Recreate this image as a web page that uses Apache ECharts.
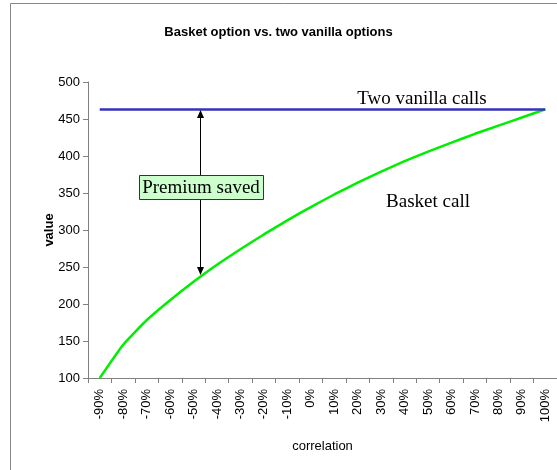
<!DOCTYPE html>
<html>
<head>
<meta charset="utf-8">
<script src="https://cdn.jsdelivr.net/npm/echarts@6/dist/echarts.min.js"></script>
<style>
html,body{margin:0;padding:0;background:#fff;}
#chart{width:557px;height:470px;}
</style>
</head>
<body>
<div id="chart"></div>
<script>
var categories = ['-90%','-80%','-70%','-60%','-50%','-40%','-30%','-20%','-10%','0%','10%','20%','30%','40%','50%','60%','70%','80%','90%','100%'];
var basketCall = [100,145,178,205,230,253,274,294,313,331,348,364,379,393,406,418,430,441,452,463];
var vanillaCalls = [463,463,463,463,463,463,463,463,463,463,463,463,463,463,463,463,463,463,463,463];

var chart = echarts.init(document.getElementById('chart'), null, {renderer:'canvas'});
var font = 'Liberation Sans, Arial, sans-serif';
var serif = 'Liberation Serif, Times New Roman, serif';
chart.setOption({
  animation:false,
  backgroundColor:'#fff',
  title:{
    text:'Basket option vs. two vanilla options',
    left:'center', top:21,
    textStyle:{fontFamily:font, fontSize:13, fontWeight:'bold', color:'#000'}
  },
  grid:{left:88, top:82, right:-5, bottom:92, containLabel:false},
  xAxis:{
    type:'category', data:categories, boundaryGap:true,
    name:'correlation', nameLocation:'middle', nameGap:62,
    nameTextStyle:{fontFamily:font, fontSize:13, color:'#000'},
    axisLine:{lineStyle:{color:'#808080', width:1}},
    axisTick:{show:true, length:5, alignWithLabel:false, lineStyle:{color:'#808080'}},
    axisLabel:{rotate:90, interval:0, fontFamily:font, fontSize:13, color:'#000', margin:11}
  },
  yAxis:{
    type:'value', min:100, max:500, interval:50,
    name:'value', nameLocation:'middle', nameGap:32, nameMoveOverlap:false,
    nameTextStyle:{fontFamily:font, fontSize:13, fontWeight:'bold', color:'#000'},
    axisLine:{show:true, lineStyle:{color:'#808080', width:1}},
    axisTick:{show:true, length:5, lineStyle:{color:'#808080'}},
    splitLine:{show:false},
    axisLabel:{fontFamily:font, fontSize:13, color:'#000', margin:8}
  },
  series:[
    {name:'Two vanilla calls', type:'line', data:vanillaCalls, symbol:'none',
     lineStyle:{color:'#3333bb', width:2.5}, z:3},
    {name:'Basket call', type:'line', data:basketCall, symbol:'none', smooth:0.15,
     lineStyle:{color:'#00ee00', width:2.5}, z:2}
  ],
  graphic:[
    {type:'line', shape:{x1:10.5,y1:3.5,x2:10.5,y2:470}, style:{stroke:'#888',lineWidth:1}},
    {type:'line', shape:{x1:10.5,y1:3.5,x2:557,y2:3.5}, style:{stroke:'#888',lineWidth:1}},
    {type:'line', shape:{x1:200.5,y1:116,x2:200.5,y2:268}, style:{stroke:'#000',lineWidth:1}, z:10},
    {type:'polygon', shape:{points:[[200.5,110],[197,118],[204,118]]}, style:{fill:'#000'}, z:10},
    {type:'polygon', shape:{points:[[200.5,275],[197,267],[204,267]]}, style:{fill:'#000'}, z:10},
    {type:'rect', shape:{x:139.5,y:175.5,width:124,height:24}, style:{fill:'#ccffcc',stroke:'#333',lineWidth:1}, z:11},
    {type:'text', x:201, y:188, style:{text:'Premium saved', fontFamily:serif, fontSize:19, fill:'#000', align:'center', verticalAlign:'middle'}, z:12},
    {type:'text', x:422, y:99, style:{text:'Two vanilla calls', fontFamily:serif, fontSize:19, fill:'#000', align:'center', verticalAlign:'middle'}, z:12},
    {type:'text', x:428, y:202, style:{text:'Basket call', fontFamily:serif, fontSize:19, fill:'#000', align:'center', verticalAlign:'middle'}, z:12}
  ]
});
</script>
</body>
</html>
